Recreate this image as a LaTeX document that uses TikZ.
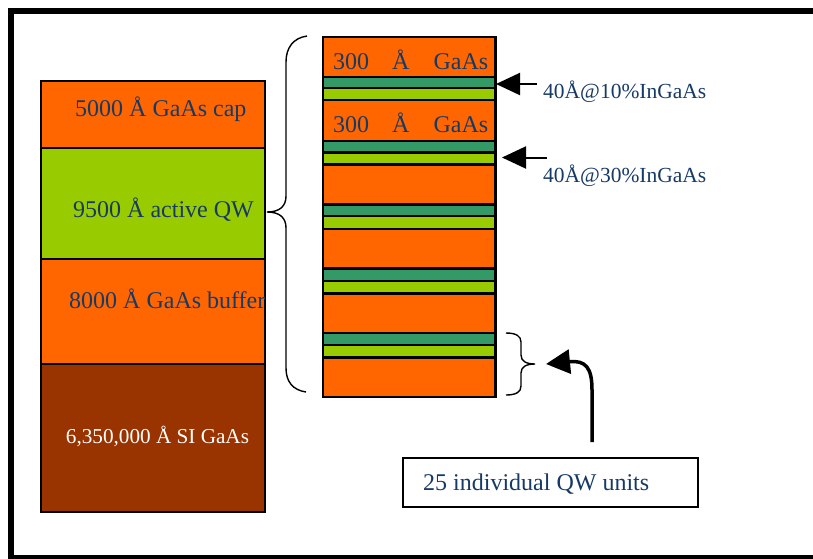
\documentclass[tikz,border=0pt]{standalone}
\usepackage{fontspec}
\setmainfont{Liberation Serif}
\usetikzlibrary{arrows.meta}
\definecolor{gaas}{RGB}{255,102,0}
\definecolor{dgreen}{RGB}{51,153,102}
\definecolor{lgreen}{RGB}{153,204,0}
\definecolor{sibrown}{RGB}{153,51,0}
\definecolor{txtblue}{RGB}{22,58,102}
\tikzset{
  layerL/.style={draw=black, line width=2.6pt, inner sep=0pt, outer sep=0pt, anchor=north west, minimum width=224pt},
  layerR/.style={draw=black, line width=2.2pt, inner sep=0pt, outer sep=0pt, anchor=north west, minimum width=172.5pt},
  bigtxt/.style={inner sep=0pt, anchor=base west, text=txtblue, font=\fontsize{24}{28}\selectfont},
  lbltxt/.style={inner sep=0pt, anchor=base west, text=txtblue, font=\fontsize{21.5}{26}\selectfont},
  bracestyle/.style={draw=black, line width=1.4pt},
  ptr/.style={draw=black, line width=2pt, -{Triangle[length=24pt,width=22pt]}},
  curvptr/.style={draw=black, line width=3.5pt, -{Triangle[length=24pt,width=24pt]}},
}
\begin{document}
\begin{tikzpicture}[x=1pt,y=-1pt]
\useasboundingbox (0,0) rectangle (813,558);
\fill[white] (0,0) rectangle (813,558);
% frame
\draw[line width=6pt] (11,11) rectangle (840,558);

% left stack
\node[layerL, fill=gaas, minimum height=67pt] (cap) at (41,81) {};
\node[layerL, fill=lgreen, minimum height=111pt] (act) at (41,148) {};
\node[layerL, fill=gaas, minimum height=105pt] (buf) at (41,259) {};
\node[layerL, fill=sibrown, minimum height=148pt] (si) at (41,364) {};
\node[bigtxt] (tcap) at (75,116) {5000 Å GaAs cap};
\node[bigtxt] (tact) at (73,217.7) {9500 Å active QW};
\node[bigtxt] (tbuf) at (69,308.3) {8000 Å GaAs buffer};
\node[bigtxt, text=white, font=\fontsize{21.2}{25}\selectfont] (tsi) at (65.7,443.3) {6,350,000 Å SI GaAs};

% right stack
\node[layerR, fill=gaas, minimum height=40pt] (O1) at (323,37) {};
\node[layerR, fill=dgreen, minimum height=11pt] (D1) at (323,77) {};
\node[layerR, fill=lgreen, minimum height=12pt] (L1) at (323,88) {};
\node[layerR, fill=gaas, minimum height=41pt] (O2) at (323,100) {};
\node[layerR, fill=dgreen, minimum height=11.5pt] (D2) at (323,141) {};
\node[layerR, fill=lgreen, minimum height=12pt] (L2) at (323,152.5) {};
\node[layerR, fill=gaas, minimum height=40pt] (O3) at (323,164.5) {};
\node[layerR, fill=dgreen, minimum height=11.5pt] (D3) at (323,204.5) {};
\node[layerR, fill=lgreen, minimum height=13pt] (L3) at (323,216) {};
\node[layerR, fill=gaas, minimum height=39.5pt] (O4) at (323,229) {};
\node[layerR, fill=dgreen, minimum height=12.5pt] (D4) at (323,268.5) {};
\node[layerR, fill=lgreen, minimum height=12.5pt] (L4) at (323,281) {};
\node[layerR, fill=gaas, minimum height=39.5pt] (O5) at (323,293.5) {};
\node[layerR, fill=dgreen, minimum height=12pt] (D5) at (323,333) {};
\node[layerR, fill=lgreen, minimum height=12.5pt] (L5) at (323,345) {};
\node[layerR, fill=gaas, minimum height=39.5pt] (O6) at (323,357.5) {};

\node[bigtxt] (t300a) at (333,69.3) {300\hspace{23pt}Å\hspace{24pt}GaAs};
\node[bigtxt] (t300b) at (333,132.7) {300\hspace{23pt}Å\hspace{24pt}GaAs};

% big brace
\draw[bracestyle] (307,36) .. controls (293,38) and (286,48) .. (286,62) -- (286,196)
  .. controls (286,206) and (280,212) .. (267,212)
  .. controls (280,212) and (286,218) .. (286,228) -- (286,368)
  .. controls (286,382) and (293,390) .. (306,392);

% small brace
\draw[bracestyle] (506,333) .. controls (516,333) and (521,336) .. (521,342) -- (521,355)
  .. controls (521,361) and (526,364) .. (535,364)
  .. controls (526,364) and (521,367) .. (521,373) -- (521,386)
  .. controls (521,392) and (516,395) .. (506,395);

% labels and pointers
\node[lbltxt] (l10) at (543,98.3) {40Å@10\%InGaAs};
\node[lbltxt] (l30) at (543,182.7) {40Å@30\%InGaAs};
\coordinate (a1s) at (537,84);
\coordinate (a1e) at (496,84);
\coordinate (a2s) at (547,157.5);
\coordinate (a2e) at (502,157.5);
\draw[ptr] (a1s) -- (a1e);
\draw[ptr] (a2s) -- (a2e);

% units box and curved arrow
\node[draw=black, line width=2pt, inner sep=0pt, outer sep=0pt, anchor=north west,
      minimum width=295pt, minimum height=49.6pt] (ubox) at (402.7,457.7) {};
\node[bigtxt] (tunits) at (423,490.7) {25 individual QW units};
\coordinate (cs) at (592,442);
\coordinate (ce) at (546,364);
\draw[curvptr] (cs) -- (592,390) .. controls (592,368) and (586,360) .. (ce);
\end{tikzpicture}
\end{document}
